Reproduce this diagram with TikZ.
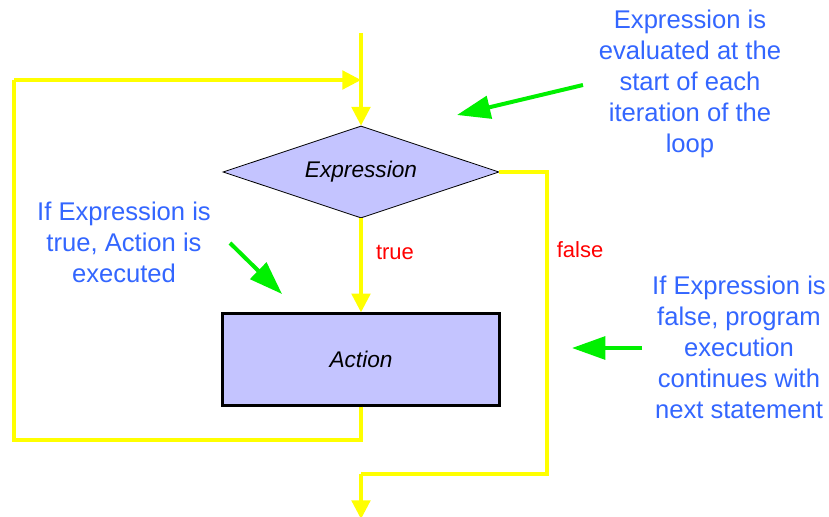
\documentclass[tikz,border=0pt]{standalone}
\usepackage{fontspec}
\setmainfont{Liberation Sans}
\usetikzlibrary{shapes.geometric,arrows.meta}
\definecolor{flowyellow}{RGB}{255,255,0}
\definecolor{notegreen}{RGB}{0,240,0}
\definecolor{noteblue}{RGB}{51,102,255}
\definecolor{boxfill}{RGB}{196,196,255}
\definecolor{labelred}{RGB}{255,0,0}
\tikzset{
  flow/.style={draw=flowyellow, line width=2.4pt, -{Triangle[width=14pt,length=14pt]}},
  flowline/.style={draw=flowyellow, line width=2.4pt},
  note/.style={text=noteblue, font=\fontsize{19.2pt}{23.25pt}\selectfont, align=center, inner sep=0pt},
  pointer/.style={draw=notegreen, line width=3pt, -{Triangle[width=17pt,length=25pt]}},
  decision/.style={diamond, shape aspect=3, draw=black, line width=0.6pt, fill=boxfill, minimum width=207pt, minimum height=69pt, inner sep=0pt, font=\fontsize{17pt}{20pt}\selectfont\itshape},
  process/.style={rectangle, draw=black, line width=1.8pt, fill=boxfill, minimum width=208pt, minimum height=69pt, inner sep=0pt, font=\fontsize{17pt}{20pt}\selectfont\itshape},
  branch/.style={text=labelred, font=\fontsize{16.5pt}{20pt}\selectfont, inner sep=0pt}
}
\begin{document}
\begin{tikzpicture}[x=0.75pt,y=-0.75pt]
\useasboundingbox (0,0) rectangle (829,517);
\fill[white] (0,0) rectangle (829,517);

% flowchart shapes
\node[decision] (expr) at (361,172) {Expression};
\node[process] (act) at (361,359.5) {Action};

% entry, loop-back and exit coordinates
\coordinate (entry) at (361,33);
\coordinate (join) at (361,80);
\coordinate (lb) at (14,440);
\coordinate (lt) at (14,80);
\coordinate (fr) at (547,172);
\coordinate (fb) at (547,474);
\coordinate (xb) at (361,474);
\coordinate (exit) at (361,519);

% yellow control flow
\draw[flowline] (entry) -- (join);
\draw[flow] (join) -- (expr.north);
\draw[flow] (expr.south) -- (act.north);
\draw[flowline] (act.south) -- (act.south |- lb) -- (lb) -- (lt);
\draw[flow] (lt) -- (join);
\draw[flowline] (expr.east) -- (fr) -- (fb) -- (xb);
\draw[flow] (xb) -- (exit);

% branch labels
\node[branch] (tl) at (395,252) {true};
\node[branch] (fl) at (580,250) {false};

% explanatory notes
\node[note] (n1) at (690,84) {Expression is\\evaluated at the\\start of each\\iteration of the\\loop};
\node[note] (n2) at (124,242) {If Expression is\\true, Action is\\executed};
\node[note] (n3) at (739,347) {If Expression is\\false, program\\execution\\continues with\\next statement};

% green pointers
\coordinate (p1s) at (583,85);
\coordinate (p1e) at (457,115);
\coordinate (p2s) at (230,243);
\coordinate (p2e) at (282,294);
\coordinate (p3s) at (642,348);
\coordinate (p3e) at (572,348);
\draw[pointer] (p1s) -- (p1e);
\draw[pointer] (p2s) -- (p2e);
\draw[pointer] (p3s) -- (p3e);
\end{tikzpicture}
\end{document}
